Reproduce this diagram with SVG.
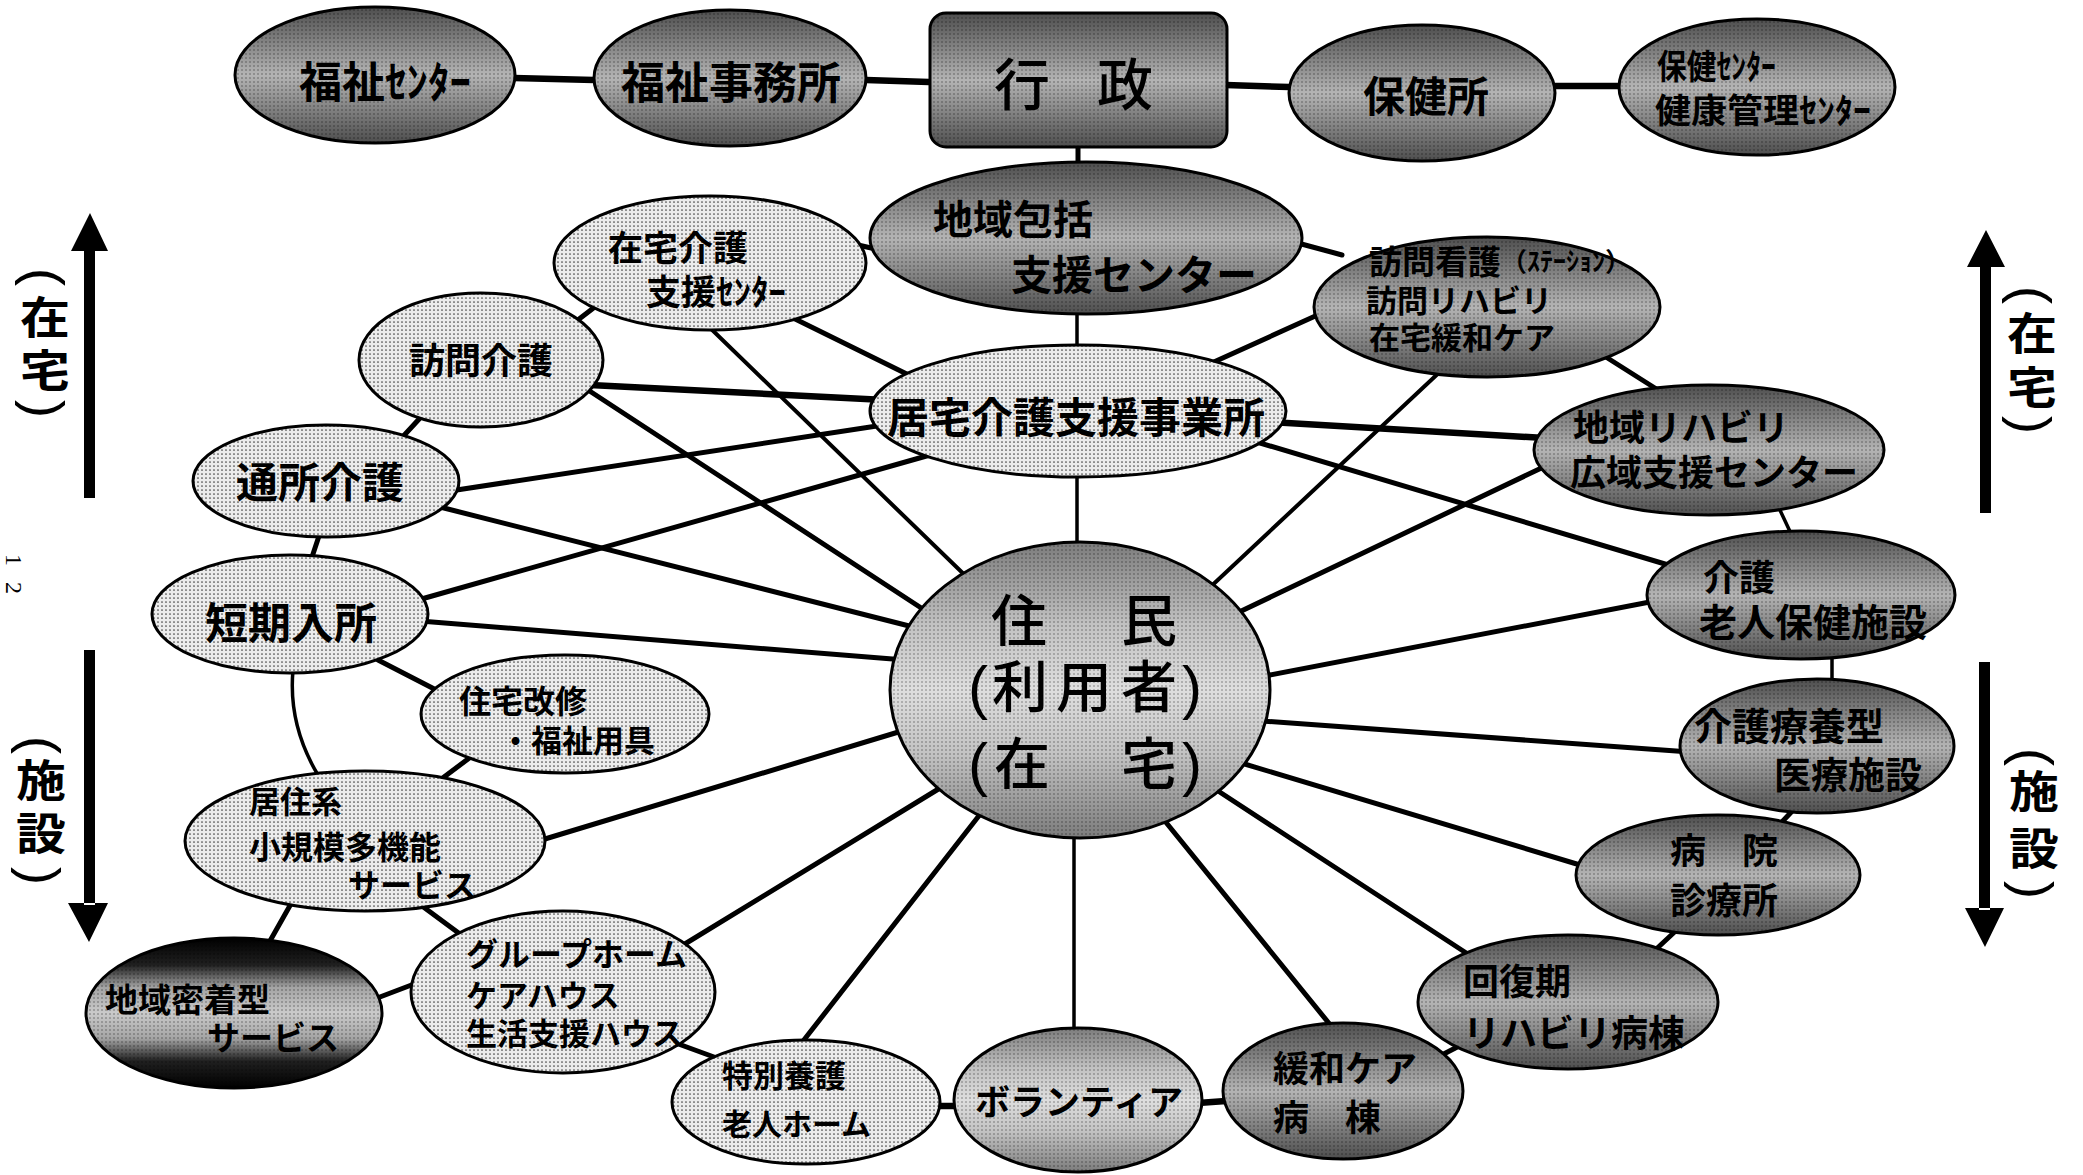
<svg xmlns="http://www.w3.org/2000/svg" width="2083" height="1175" viewBox="0 0 2083 1175">
<style>
.ln{stroke:#000;stroke-width:5;fill:none;stroke-linecap:round}
.tn{stroke-width:3.5}
.tk{stroke-width:6.5}
.bd{stroke:#000;stroke-width:3}
.lt{fill:url(#pl)}
.dk{fill:url(#gd)}
.md{fill:url(#gm)}
.bk{fill:url(#gb)}
.ov{fill:url(#po);stroke:#000;stroke-width:3}
.t{font-family:"Liberation Sans","Noto Sans CJK JP",sans-serif;font-weight:700;fill:#000;dominant-baseline:central}
.c{text-anchor:middle}
.p{font-family:"Liberation Sans","Noto Sans CJK JP",sans-serif;font-weight:500;fill:#000;dominant-baseline:central;text-anchor:middle}
.pg{font-family:"Liberation Serif",serif;font-size:24px;fill:#000}
</style>
<defs>
<pattern id="pl" width="4" height="4" patternUnits="userSpaceOnUse"><rect width="4" height="4" fill="#ececec"/><circle cx="2" cy="2" r="0.85" fill="#444"/></pattern>
<pattern id="po" width="4" height="4" patternUnits="userSpaceOnUse"><circle cx="2" cy="2" r="0.8" fill="#000" fill-opacity="0.45"/></pattern>
<linearGradient id="gd" x1="0" y1="0" x2="0" y2="1">
<stop offset="0" stop-color="#4e4e4e"/><stop offset="0.3" stop-color="#8c8c8c"/><stop offset="0.5" stop-color="#b4b4b4"/><stop offset="0.7" stop-color="#8c8c8c"/><stop offset="1" stop-color="#4e4e4e"/>
</linearGradient>
<linearGradient id="gm" x1="0" y1="0" x2="0" y2="1">
<stop offset="0" stop-color="#7c7c7c"/><stop offset="0.28" stop-color="#c2c2c2"/><stop offset="0.5" stop-color="#dedede"/><stop offset="0.72" stop-color="#c2c2c2"/><stop offset="1" stop-color="#7c7c7c"/>
</linearGradient>
<linearGradient id="gb" x1="0" y1="0" x2="0" y2="1">
<stop offset="0" stop-color="#000"/><stop offset="0.18" stop-color="#202020"/><stop offset="0.33" stop-color="#a4a4a4"/><stop offset="0.5" stop-color="#cacaca"/><stop offset="0.67" stop-color="#a4a4a4"/><stop offset="0.82" stop-color="#202020"/><stop offset="1" stop-color="#000"/>
</linearGradient>
</defs>
<rect width="2083" height="1175" fill="#fff"/>

<g id="connectors">
<path class="ln tk" d="M514,78 L594,80"/>
<path class="ln tk" d="M866,80 L929,82"/>
<path class="ln tk" d="M1226,85 L1289,87"/>
<path class="ln tk" d="M1555,86 L1620,86"/>
<path class="ln" d="M1078,145 L1078,166"/>
<path class="ln" d="M858,245 L880,250"/>
<path class="ln" d="M570,326 L600,303"/>
<path class="ln" d="M421,417 L397,443"/>
<path class="ln" d="M320,533 L311,560"/>
<path class="ln" d="M378,660 L444,694"/>
<path class="ln tn" d="M293,670 Q288,725 318,775"/>
<path class="ln" d="M480,750 L440,780"/>
<path class="ln" d="M292,902 L266,948"/>
<path class="ln" d="M418,903 L464,937"/>
<path class="ln" d="M372,1000 L422,981"/>
<path class="ln" d="M673,1042 L714,1057"/>
<path class="ln tk" d="M935,1106 L960,1106"/>
<path class="ln tk" d="M1198,1103 L1226,1101"/>
<path class="ln" d="M1436,1058 L1465,1043"/>
<path class="ln" d="M1652,953 L1681,926"/>
<path class="ln" d="M1780,824 L1797,806"/>
<path class="ln tn" d="M1832,655 L1832,684"/>
<path class="ln tn" d="M1779,508 L1794,540"/>
<path class="ln" d="M1598,352 L1658,390"/>
<path class="ln" d="M1294,242 L1342,255"/>
<path class="ln tn" d="M1077,310 L1077,349"/>
<path class="ln tn" d="M1077,474 L1077,548"/>
<path class="ln tn" d="M1074,836 L1074,1032"/>
<path class="ln" d="M785,314 L925,383"/>
<path class="ln" d="M705,323 L975,585" style="stroke-width:4"/>
<path class="ln tk" d="M590,385 L885,400"/>
<path class="ln" d="M585,388 L935,617"/>
<path class="ln" d="M450,491 L890,424"/>
<path class="ln" d="M440,507 L925,630"/>
<path class="ln" d="M418,600 L930,455"/>
<path class="ln" d="M420,621 L905,660"/>
<path class="ln" d="M535,842 L915,727"/>
<path class="ln" d="M675,950 L945,785"/>
<path class="ln" d="M800,1045 L985,808"/>
<path class="ln" d="M1336,1032 L1160,815"/>
<path class="ln" d="M1480,962 L1212,787"/>
<path class="ln" d="M1590,868 L1238,762"/>
<path class="ln" d="M1690,752 L1262,721"/>
<path class="ln" d="M1655,601 L1265,676"/>
<path class="ln" d="M1552,463 L1235,614"/>
<path class="ln" d="M1444,368 L1205,592" style="stroke-width:4"/>
<path class="ln tk" d="M1270,422 L1545,438"/>
<path class="ln" d="M1250,440 L1675,567"/>
<path class="ln" d="M1205,366 L1322,313"/>
</g>

<g id="n-fukushi-center">
<ellipse class="dk" cx="375" cy="75" rx="140" ry="68"/><ellipse class="ov" cx="375" cy="75" rx="140" ry="68"/>
<text class="t c" x="385" y="83" font-size="43">福祉ｾﾝﾀｰ</text>
</g>
<g id="n-fukushi-jimusho">
<ellipse class="dk" cx="730" cy="78" rx="136" ry="68"/><ellipse class="ov" cx="730" cy="78" rx="136" ry="68"/>
<text class="t c" x="731" y="83" font-size="44">福祉事務所</text>
</g>
<g id="n-gyosei">
<rect class="dk" x="930" y="13" width="297" height="134" rx="16"/><rect class="ov" x="930" y="13" width="297" height="134" rx="16"/>
<text class="p" x="1022" y="85" font-size="56">行</text>
<text class="p" x="1125" y="85" font-size="56">政</text>
</g>
<g id="n-hokenjo">
<ellipse class="dk" cx="1422" cy="93" rx="133" ry="68"/><ellipse class="ov" cx="1422" cy="93" rx="133" ry="68"/>
<text class="t c" x="1426" y="97" font-size="42">保健所</text>
</g>
<g id="n-hoken-center">
<ellipse class="dk" cx="1757" cy="87" rx="138" ry="68"/><ellipse class="ov" cx="1757" cy="87" rx="138" ry="68"/>
<text class="t" x="1657" y="67" font-size="34" textLength="119" lengthAdjust="spacingAndGlyphs">保健ｾﾝﾀｰ</text>
<text class="t" x="1655" y="111" font-size="34" textLength="216" lengthAdjust="spacingAndGlyphs">健康管理ｾﾝﾀｰ</text>
</g>

<g id="n-chiiki-hokatsu">
<ellipse class="dk" cx="1086" cy="238" rx="216" ry="76"/><ellipse class="ov" cx="1086" cy="238" rx="216" ry="76"/>
<text class="t" x="933" y="220" font-size="40">地域包括</text>
<text class="t" x="1011" y="276" font-size="41">支援センター</text>
</g>
<g id="n-zaitaku-shien">
<ellipse class="lt bd" cx="710" cy="263" rx="156" ry="67"/>
<text class="t" x="608" y="248" font-size="35">在宅介護</text>
<text class="t" x="646" y="292" font-size="35">支援ｾﾝﾀｰ</text>
</g>
<g id="n-houmon-kango">
<ellipse class="dk" cx="1487" cy="307" rx="173" ry="70"/><ellipse class="ov" cx="1487" cy="307" rx="173" ry="70"/>
<text class="t" x="1369" y="262" font-size="33">訪問看護<tspan font-size="26">（ｽﾃｰｼｮﾝ）</tspan></text>
<text class="t" x="1366" y="301" font-size="31">訪問リハビリ</text>
<text class="t" x="1369" y="338" font-size="31">在宅緩和ケア</text>
</g>
<g id="n-houmon-kaigo">
<ellipse class="lt bd" cx="481" cy="360" rx="122" ry="67"/>
<text class="t c" x="481" y="361" font-size="36">訪問介護</text>
</g>
<g id="n-kyotaku">
<ellipse class="lt bd" cx="1078" cy="411" rx="208" ry="66"/>
<text class="t c" x="1076" y="418" font-size="42">居宅介護支援事業所</text>
</g>
<g id="n-chiiki-reha">
<ellipse class="dk" cx="1709" cy="450" rx="175" ry="65"/><ellipse class="ov" cx="1709" cy="450" rx="175" ry="65"/>
<text class="t" x="1573" y="428" font-size="36">地域リハビリ</text>
<text class="t" x="1570" y="473" font-size="36">広域支援センター</text>
</g>
<g id="n-tsusho">
<ellipse class="lt bd" cx="326" cy="481" rx="133" ry="56"/>
<text class="t c" x="320" y="483" font-size="42">通所介護</text>
</g>
<g id="n-tanki">
<ellipse class="lt bd" cx="290" cy="614" rx="138" ry="59"/>
<text class="t c" x="291" y="624" font-size="43">短期入所</text>
</g>
<g id="n-jumin">
<ellipse class="md" cx="1080" cy="690" rx="190" ry="148"/><ellipse class="ov" cx="1080" cy="690" rx="190" ry="148"/>
<text class="p" x="1019" y="621" font-size="56">住</text>
<text class="p" x="1149" y="621" font-size="56">民</text>
<text class="p" x="978" y="687" font-size="60">(</text>
<text class="p" x="1020" y="687" font-size="56">利</text>
<text class="p" x="1084" y="687" font-size="56">用</text>
<text class="p" x="1149" y="687" font-size="56">者</text>
<text class="p" x="1192" y="687" font-size="60">)</text>
<text class="p" x="978" y="764" font-size="60">(</text>
<text class="p" x="1022" y="764" font-size="56">在</text>
<text class="p" x="1149" y="764" font-size="56">宅</text>
<text class="p" x="1192" y="764" font-size="60">)</text>
</g>
<g id="n-rojin-hoken">
<ellipse class="dk" cx="1801" cy="595" rx="154" ry="64"/><ellipse class="ov" cx="1801" cy="595" rx="154" ry="64"/>
<text class="t" x="1703" y="578" font-size="36">介護</text>
<text class="t" x="1699" y="623" font-size="38">老人保健施設</text>
</g>
<g id="n-jutaku-kaishu">
<ellipse class="lt bd" cx="565" cy="714" rx="144" ry="59"/>
<text class="t" x="459" y="702" font-size="32">住宅改修</text>
<text class="t" x="500" y="741" font-size="31">・福祉用具</text>
</g>
<g id="n-ryoyo">
<ellipse class="dk" cx="1817" cy="746" rx="137" ry="67"/><ellipse class="ov" cx="1817" cy="746" rx="137" ry="67"/>
<text class="t" x="1694" y="727" font-size="38">介護療養型</text>
<text class="t" x="1774" y="776" font-size="37">医療施設</text>
</g>
<g id="n-kyoju">
<ellipse class="lt bd" cx="365" cy="841" rx="180" ry="70"/>
<text class="t" x="249" y="802" font-size="31">居住系</text>
<text class="t" x="249" y="848" font-size="32">小規模多機能</text>
<text class="t" x="348" y="886" font-size="32">サービス</text>
</g>
<g id="n-byoin">
<ellipse class="dk" cx="1718" cy="875" rx="142" ry="60"/><ellipse class="ov" cx="1718" cy="875" rx="142" ry="60"/>
<text class="t" x="1670" y="851" font-size="36">病　院</text>
<text class="t" x="1670" y="901" font-size="36">診療所</text>
</g>
<g id="n-chiiki-mitchaku">
<ellipse class="bk" cx="234" cy="1013" rx="148" ry="75"/><ellipse class="ov" cx="234" cy="1013" rx="148" ry="75"/>
<text class="t" x="105" y="1000" font-size="33">地域密着型</text>
<text class="t" x="207" y="1038" font-size="33">サービス</text>
</g>
<g id="n-group-home">
<ellipse class="lt bd" cx="563" cy="992" rx="152" ry="81"/>
<text class="t" x="466" y="955" font-size="32">グループホーム</text>
<text class="t" x="466" y="996" font-size="31">ケアハウス</text>
<text class="t" x="466" y="1034" font-size="31">生活支援ハウス</text>
</g>
<g id="n-kaifukuki">
<ellipse class="dk" cx="1568" cy="1002" rx="150" ry="67"/><ellipse class="ov" cx="1568" cy="1002" rx="150" ry="67"/>
<text class="t" x="1463" y="982" font-size="36">回復期</text>
<text class="t" x="1463" y="1034" font-size="37">リハビリ病棟</text>
</g>
<g id="n-tokuyo">
<ellipse class="lt bd" cx="806" cy="1102" rx="134" ry="62"/>
<text class="t" x="722" y="1076" font-size="31">特別養護</text>
<text class="t" x="722" y="1124" font-size="30">老人ホーム</text>
</g>
<g id="n-volunteer">
<ellipse class="md" cx="1078" cy="1100" rx="124" ry="72"/><ellipse class="ov" cx="1078" cy="1100" rx="124" ry="72"/>
<text class="t c" x="1079" y="1102" font-size="35">ボランティア</text>
</g>
<g id="n-kanwa">
<ellipse class="dk" cx="1343" cy="1091" rx="120" ry="68"/><ellipse class="ov" cx="1343" cy="1091" rx="120" ry="68"/>
<text class="t" x="1273" y="1069" font-size="36">緩和ケア</text>
<text class="t" x="1273" y="1118" font-size="36">病　棟</text>
</g>

<g id="side-left-zaitaku">
<path d="M84,250 L95,250 L95,498 L84,498 Z M71,251 L90,213 L108,251 Z" fill="#000"/>
<text class="p" font-size="54" transform="translate(45,277) rotate(90)">(</text>
<text class="t c" font-size="50" transform="translate(45,319) scale(1,0.88)">在</text>
<text class="t c" font-size="50" transform="translate(45,372) scale(1,0.88)">宅</text>
<text class="p" font-size="54" transform="translate(45,409) rotate(90)">)</text>
</g>
<g id="side-left-shisetsu">
<path d="M84,650 L95,650 L95,905 L84,905 Z M68,903 L89,942 L108,903 Z" fill="#000"/>
<text class="p" font-size="54" transform="translate(41,745) rotate(90)">(</text>
<text class="t c" font-size="50" transform="translate(41,782) scale(1,0.88)">施</text>
<text class="t c" font-size="50" transform="translate(41,835) scale(1,0.88)">設</text>
<text class="p" font-size="54" transform="translate(41,876) rotate(90)">)</text>
</g>
<g id="side-right-zaitaku">
<path d="M1980,265 L1991,265 L1991,513 L1980,513 Z M1967,267 L1986,230 L2005,267 Z" fill="#000"/>
<text class="p" font-size="54" transform="translate(2032,295) rotate(90)">(</text>
<text class="t c" font-size="50" transform="translate(2032,335) scale(1,0.88)">在</text>
<text class="t c" font-size="50" transform="translate(2032,389) scale(1,0.88)">宅</text>
<text class="p" font-size="54" transform="translate(2032,425) rotate(90)">)</text>
</g>
<g id="side-right-shisetsu">
<path d="M1979,662 L1990,662 L1990,910 L1979,910 Z M1965,908 L1985,947 L2004,908 Z" fill="#000"/>
<text class="p" font-size="54" transform="translate(2034,757) rotate(90)">(</text>
<text class="t c" font-size="50" transform="translate(2034,793) scale(1,0.88)">施</text>
<text class="t c" font-size="50" transform="translate(2034,850) scale(1,0.88)">設</text>
<text class="p" font-size="54" transform="translate(2034,890) rotate(90)">)</text>
</g>
<g id="page-number">
<text class="pg" transform="translate(6,554) rotate(90)">1</text>
<text class="pg" transform="translate(6,582) rotate(90)">2</text>
</g>
</svg>
